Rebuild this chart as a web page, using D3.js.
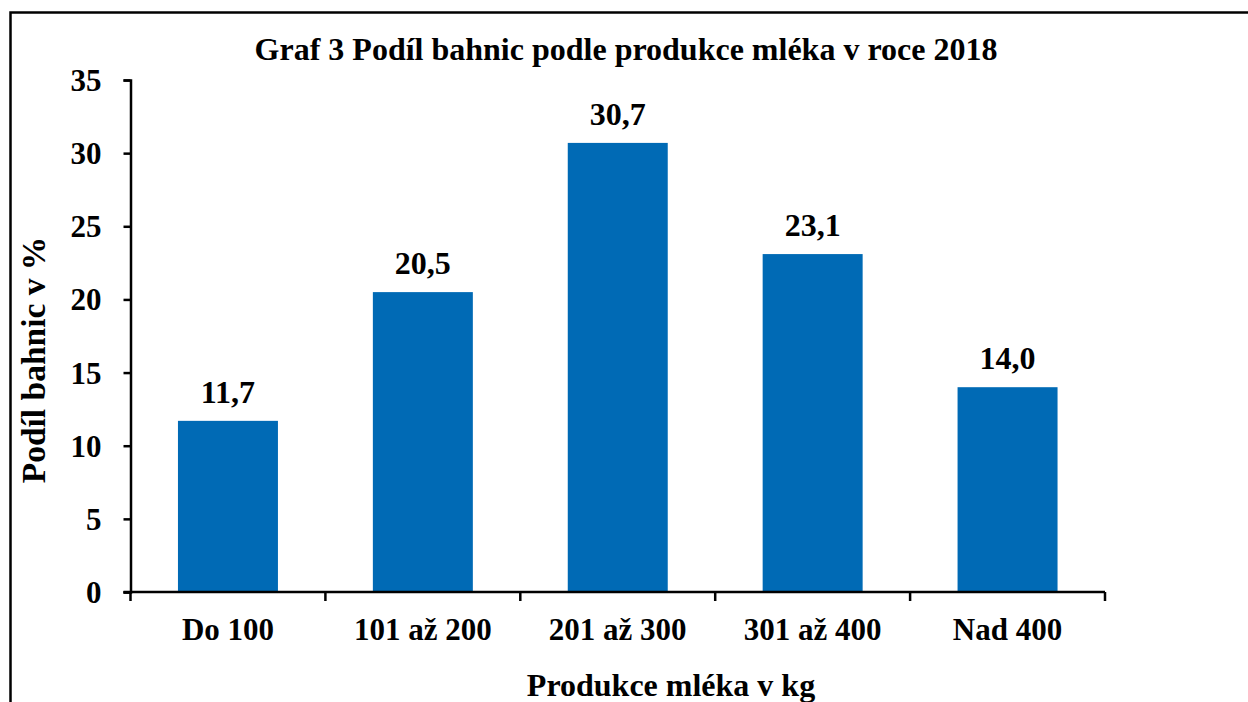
<!DOCTYPE html>
<html>
<head>
<meta charset="utf-8">
<script src="https://cdn.jsdelivr.net/npm/d3@7"></script>
<style>
  html, body { margin: 0; padding: 0; background: #fff; }
  svg { display: block; }
  text { font-family: "Liberation Serif", "Times New Roman", serif; font-weight: bold; fill: #000; }
</style>
</head>
<body>
<div id="chart"></div>
<script>
'use strict';

// ─── Data ────────────────────────────────────────────────────────────────────
const categories = ['Do 100', '101 až 200', '201 až 300', '301 až 400', 'Nad 400'];
const shares     = [11.7, 20.5, 30.7, 23.1, 14.0];
const yTicks     = [0, 5, 10, 15, 20, 25, 30, 35];

const titleText  = 'Graf 3 Podíl bahnic podle produkce mléka v roce 2018';
const xTitle     = 'Produkce mléka v kg';
const yTitle     = 'Podíl bahnic v %';

// ─── Layout ──────────────────────────────────────────────────────────────────
const W = 1248, H = 702;
const plot = { left: 130.5, right: 1105, top: 80, bottom: 592 };
const barColor = '#006AB5';
const fmt = d => d.toFixed(1).replace('.', ',');

const svg = d3.select('#chart').append('svg').attr('width', W).attr('height', H);

// Outer frame (runs off the right and bottom edges)
svg.append('rect')
  .attr('x', 10.5).attr('y', 12.5)
  .attr('width', W + 20).attr('height', H + 20)
  .attr('fill', 'none').attr('stroke', '#000').attr('stroke-width', 2.5);

const x = d3.scaleBand()
  .domain(categories)
  .range([plot.left, plot.right])
  .paddingInner(0.487)
  .paddingOuter(0.2435);

const y = d3.scaleLinear().domain([0, 35]).range([plot.bottom, plot.top]);

// Bars
svg.append('g').selectAll('rect')
  .data(categories)
  .join('rect')
  .attr('x', d => x(d))
  .attr('width', x.bandwidth())
  .attr('y', (d, i) => y(shares[i]))
  .attr('height', (d, i) => y(0) - y(shares[i]))
  .attr('fill', barColor);

// Value labels
svg.append('g').selectAll('text')
  .data(categories)
  .join('text')
  .attr('x', d => x(d) + x.bandwidth() / 2)
  .attr('y', (d, i) => y(shares[i]) - 18)
  .attr('text-anchor', 'middle')
  .attr('font-size', 32)
  .text((d, i) => fmt(shares[i]));

// Y axis
const yAxis = svg.append('g')
  .attr('transform', `translate(${plot.left},0)`)
  .call(d3.axisLeft(y).tickValues(yTicks).tickSize(7).tickPadding(22).tickFormat(d3.format('d')));
yAxis.select('.domain').attr('stroke-width', 2.5);
yAxis.selectAll('.tick line').attr('stroke-width', 2.5);
yAxis.selectAll('.tick text')
  .attr('font-size', 31)
  .attr('font-family', '"Liberation Serif", "Times New Roman", serif')
  .attr('font-weight', 'bold')
  .attr('dy', '0.34em');

// X axis: line plus ticks at category boundaries
const xg = svg.append('g');
xg.append('line')
  .attr('x1', plot.left - 7).attr('x2', plot.right)
  .attr('y1', plot.bottom).attr('y2', plot.bottom)
  .attr('stroke', '#000').attr('stroke-width', 2.5);

const step = x.step();
const boundaries = d3.range(categories.length + 1).map(i => plot.left + i * step);
xg.selectAll('line.tick')
  .data(boundaries)
  .join('line')
  .attr('class', 'tick')
  .attr('x1', d => d).attr('x2', d => d)
  .attr('y1', plot.bottom).attr('y2', plot.bottom + 9)
  .attr('stroke', '#000').attr('stroke-width', 2.5);

xg.selectAll('text')
  .data(categories)
  .join('text')
  .attr('x', d => x(d) + x.bandwidth() / 2)
  .attr('y', 640)
  .attr('text-anchor', 'middle')
  .attr('font-size', 31)
  .text(d => d);

// Titles
svg.append('text')
  .attr('x', 626).attr('y', 60)
  .attr('text-anchor', 'middle')
  .attr('font-size', 32)
  .text(titleText);

svg.append('text')
  .attr('x', 671).attr('y', 696)
  .attr('text-anchor', 'middle')
  .attr('font-size', 32)
  .text(xTitle);

svg.append('text')
  .attr('transform', 'translate(45,360) rotate(-90)')
  .attr('text-anchor', 'middle')
  .attr('font-size', 33.5)
  .text(yTitle);
</script>
</body>
</html>
